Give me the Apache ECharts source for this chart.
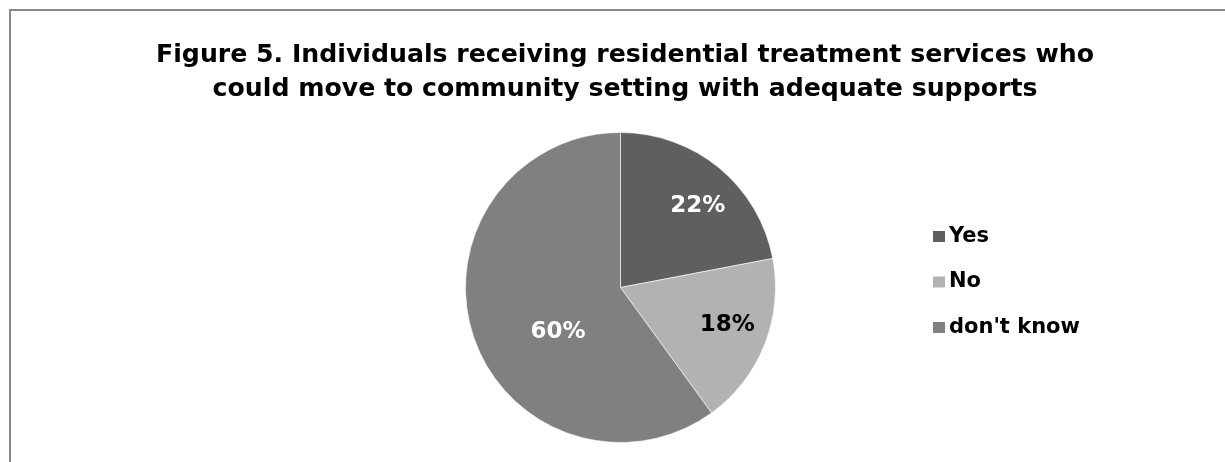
<!DOCTYPE html>
<html>
<head>
<meta charset="utf-8">
<script src="https://cdn.jsdelivr.net/npm/echarts@6/dist/echarts.min.js"></script>
<style>
html,body{margin:0;padding:0;background:#fff;}
#chart{width:1225px;height:462px;}
</style>
</head>
<body>
<div id="chart"></div>
<script>
var titleText = 'Figure 5. Individuals receiving residential treatment services who\ncould move to community setting with adequate supports';
var categories = ['Yes', 'No', "don't know"];
var values = [22, 18, 60];
var colors = ['#5f5f5f', '#b2b2b2', '#808080'];
var labelColors = ['#ffffff', '#000000', '#ffffff'];
var labelShift = [[26, -19], [32, 8], [14, 20]];

var FONT = '"DejaVu Sans", Verdana, sans-serif';
var chart = echarts.init(document.getElementById('chart'), null, {renderer: 'canvas'});
chart.setOption({
  animation: false,
  backgroundColor: '#ffffff',
  graphic: [{
    type: 'rect',
    shape: {x: 10, y: 10, width: 1400, height: 700},
    style: {fill: 'none', stroke: '#8a8a8a', lineWidth: 2},
    silent: true
  }],
  title: {
    text: titleText,
    left: 620,
    textAlign: 'center',
    top: 33,
    textStyle: {fontFamily: FONT, fontWeight: 'bold', fontSize: 25.2, color: '#000', lineHeight: 34}
  },
  legend: {
    orient: 'vertical',
    left: 931,
    top: 226,
    padding: 0,
    itemWidth: 14,
    itemHeight: 13,
    itemGap: 24.5,
    icon: 'rect',
    textStyle: {fontFamily: FONT, fontWeight: 'bold', fontSize: 21, color: '#000', padding: [0, 0, 0, -2]},
    data: categories
  },
  series: [{
    type: 'pie',
    center: [620.5, 287.5],
    radius: [0, 155],
    startAngle: 90,
    clockwise: true,
    avoidLabelOverlap: false,
    itemStyle: {borderColor: '#ffffff', borderWidth: 0.6},
    label: {
      show: true,
      position: 'inside',
      formatter: function (p) { return p.value + '%'; },
      fontFamily: FONT,
      fontWeight: 'bold',
      fontSize: 23
    },
    labelLayout: function (p) {
      var s = labelShift[p.dataIndex];
      return {dx: s[0], dy: s[1]};
    },
    labelLine: {show: false},
    emphasis: {disabled: true},
    data: categories.map(function (c, i) {
      return {
        name: c,
        value: values[i],
        itemStyle: {color: colors[i]},
        label: {color: labelColors[i]}
      };
    })
  }]
});
</script>
</body>
</html>
